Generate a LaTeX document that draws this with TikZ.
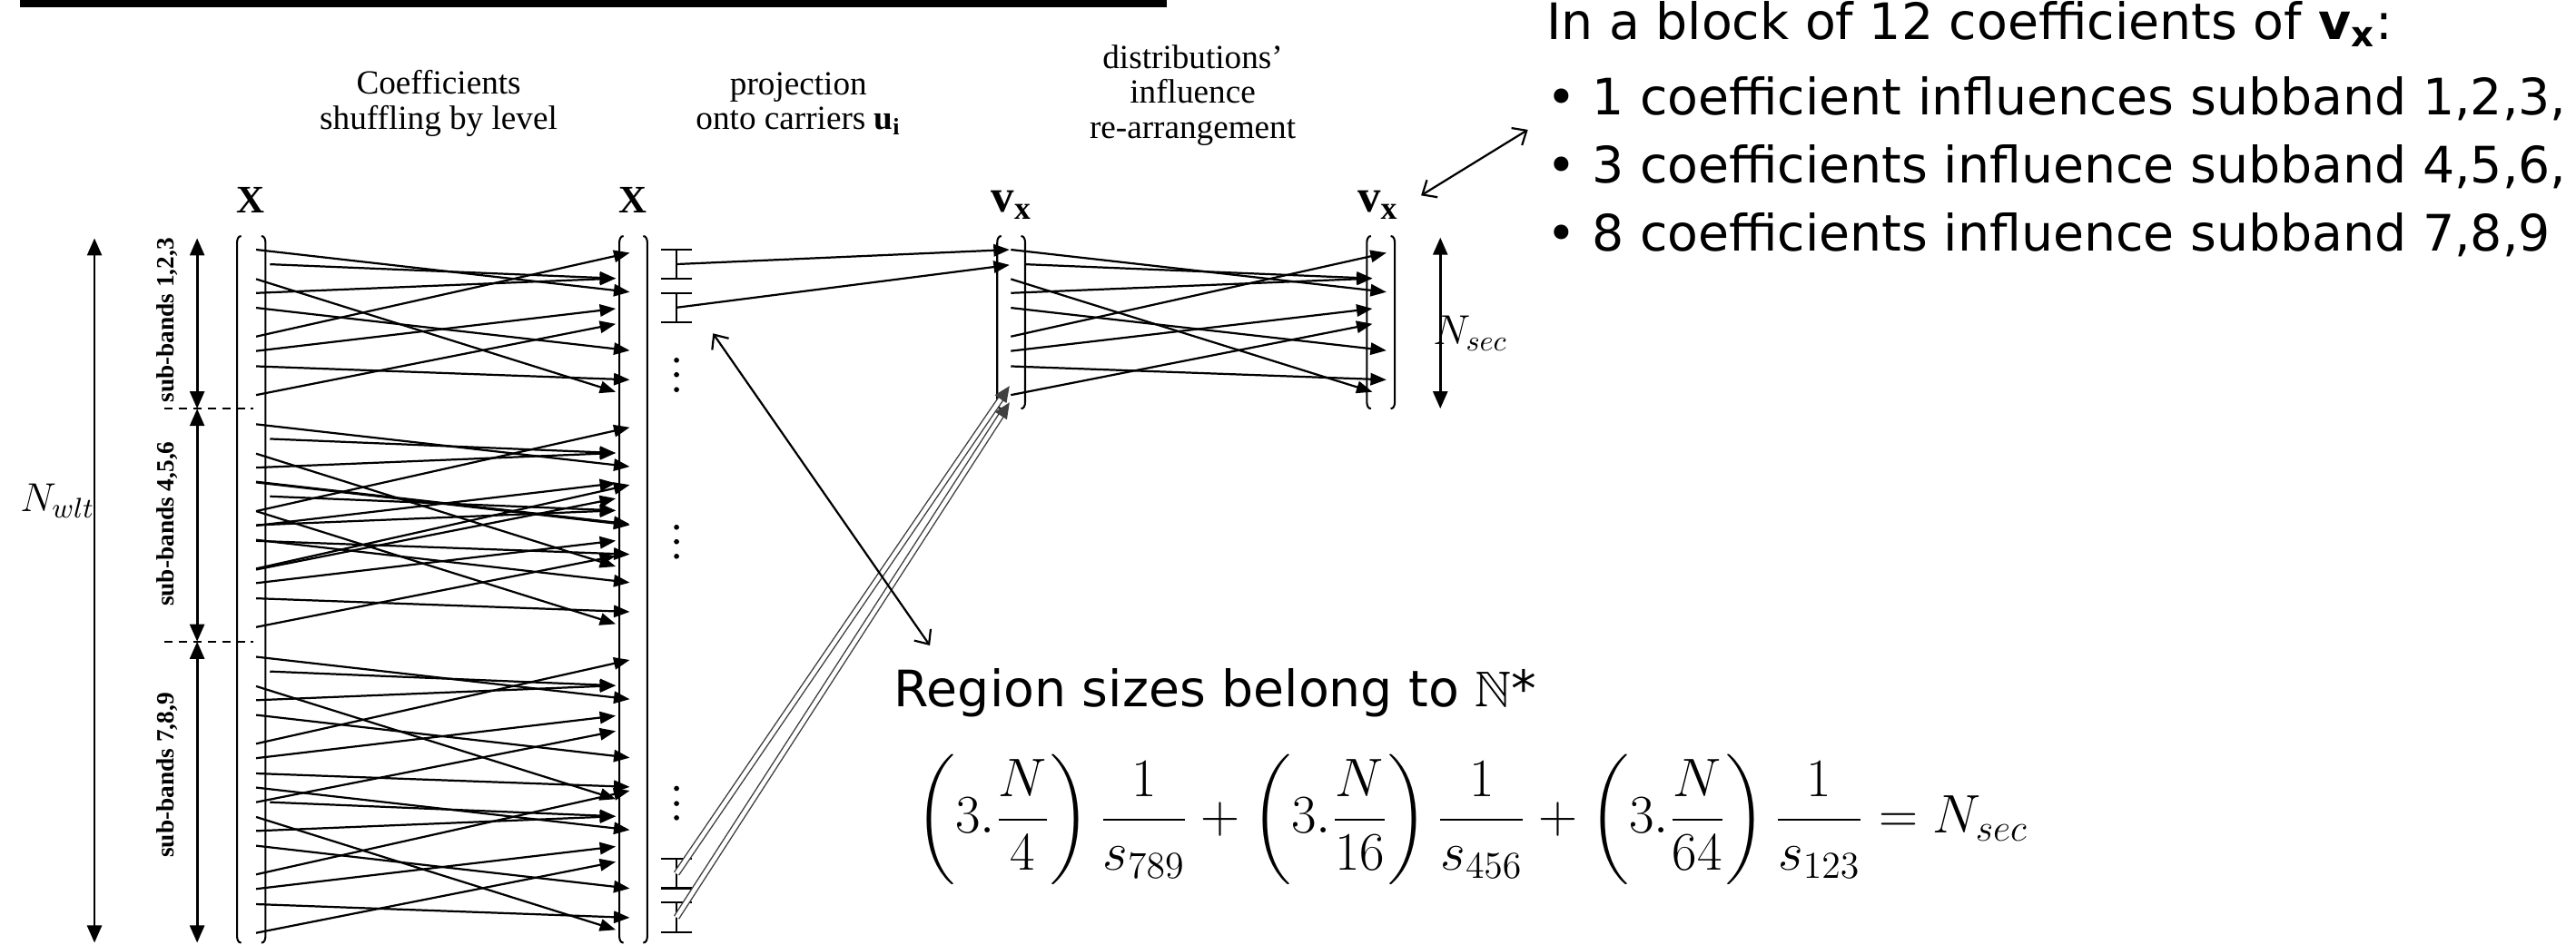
\RequirePackage{fix-cm}
\documentclass[tikz,border=0pt]{standalone}
\usepackage{amsmath}
\usepackage{amssymb}
\usepackage[no-math]{fontspec}
\setmainfont{Liberation Serif}
\newfontfamily\slidefont{DejaVu Sans}
\usepackage{xcolor}
\usepackage{tikz}
\usetikzlibrary{arrows.meta,positioning,calc}

% one shuffle block: tag, start x, end x, top y
\newcommand{\shuffleblock}[4]{%
  \foreach \n/\so/\sdx/\eo/\edx in {a/0/0/25.8/8.5, b/8.9/8.4/17.5/0, c/17.9/0/86.6/0, d/26.4/0/17.5/0, e/35.4/0/61.4/8.5, f/52.9/0/1.9/8.5, g/61.7/0/35.9/0, h/71.0/0/79.2/8.5, i/88.5/0/45.2/0}{%
    \coordinate (#1s\n) at ({#2+\sdx},{#4+\so});
    \coordinate (#1e\n) at ({#3+\edx},{#4+\eo});
    \draw[shuf] (#1s\n) -- (#1e\n);
  }%
}
% vector as a pair of tall parentheses
\newcommand{\vecbracket}[4]{%
  \draw[brk] ({#1+2.5},#3) to[out=180,in=90] (#1,{#3+4}) -- (#1,{#4-4}) to[out=-90,in=180] ({#1+2.5},#4);
  \draw[brk] ({#2-2.5},#3) to[out=0,in=90] (#2,{#3+4}) -- (#2,{#4-4}) to[out=-90,in=0] ({#2-2.5},#4);
}
% region marker
\newcommand{\ibeam}[3]{%
  \draw[brk] (402.6,#2) -- (421.2,#2) (402.6,#3) -- (421.2,#3) (411.8,#2) -- (411.8,#3);
  \coordinate (#1) at (411.8,{(#2+#3)/2});
}

\begin{document}
\begin{tikzpicture}[x=0.02cm, y=-0.02cm,
    shuf/.style={line width=0.7pt, -{Triangle[length=5.5pt,width=4.2pt]}},
    brk/.style={line width=0.65pt},
    dimarrow/.style={line width=0.9pt, {Triangle[length=6pt,width=5pt]}-{Triangle[length=6pt,width=5pt]}},
    callout/.style={line width=0.7pt, {Straight Barb[length=4pt,width=7pt]}-{Straight Barb[length=4pt,width=7pt]}},
    dbl/.style={double=white, double distance=1.4pt, line width=0.45pt, draw=black!75, -{Triangle[length=5.5pt,width=4.8pt]}},
    head/.style={align=center, inner sep=0pt, font=\fontsize{11.7}{12.2}\selectfont},
    collab/.style={inner sep=0pt, font=\fontsize{13.5}{15}\selectfont\bfseries},
    vlab/.style={anchor=base west, inner sep=0pt, font=\fontsize{16}{18}\selectfont\bfseries},
    band/.style={rotate=90, inner sep=0pt, font=\fontsize{8.6}{9}\selectfont\bfseries},
    slide/.style={anchor=base west, inner sep=0pt, font=\slidefont\fontsize{17.4}{20}\selectfont}]
    \useasboundingbox (0,0) rectangle (1568,575);
    \fill (12,0) rectangle (710,4.5);

    % step titles
    \node[head] (tshuf) at (267,63) {Coefficients\\shuffling by level};
    \node[head] (tproj) at (486,63) {projection\\onto carriers \textbf{u}\textsubscript{\textbf{i}}};
    \node[head] (tdist) at (726,58) {distributions'\\influence\\re-arrangement};

    % vectors
    \node[collab] (x1) at (152.5,122) {X};
    \node[collab] (x2) at (385,122) {X};
    \node[vlab] (v1) at (603,129) {v\textsubscript{x}};
    \node[vlab] (v2) at (826,129) {v\textsubscript{x}};
    \vecbracket{144.3}{161.6}{143.7}{574}
    \vecbracket{377}{394}{143.7}{574}
    \vecbracket{607}{624}{143.7}{248.8}
    \vecbracket{832}{849}{143.7}{248.8}

    % sizes on the left
    \coordinate (wtop) at (57.5,145);
    \coordinate (wbot) at (57.5,574);
    \draw[dimarrow] (wtop) -- (wbot);
    \node[inner sep=0pt, font=\fontsize{14}{16}\selectfont] (nwlt) at (35,305) {$N_{wlt}$};
    \coordinate (b0) at (120,145);
    \coordinate (b1) at (120,248.8);
    \coordinate (b2) at (120,390.6);
    \coordinate (b3) at (120,574);
    \draw[dimarrow] (b0) -- (b1);
    \draw[dimarrow] (b1) -- (b2);
    \draw[dimarrow] (b2) -- (b3);
    \draw[dashed, dash pattern=on 3pt off 2pt, line width=0.5pt] ($(b1)+(-20,0)$) -- ($(b1)+(34,0)$);
    \draw[dashed, dash pattern=on 3pt off 2pt, line width=0.5pt] ($(b2)+(-20,0)$) -- ($(b2)+(34,0)$);
    \node[band] (sb1) at (102,195) {sub-bands 1,2,3};
    \node[band] (sb2) at (102,319) {sub-bands 4,5,6};
    \node[band] (sb3) at (102,472) {sub-bands 7,8,9};

    % shuffling by level
    \shuffleblock{A}{155.9}{374.8}{152}
    \shuffleblock{B}{155.9}{374.8}{258.3}
    \shuffleblock{C}{155.9}{374.8}{293.3}
    \shuffleblock{D}{155.9}{374.8}{399.9}
    \shuffleblock{E}{155.9}{374.8}{479.5}

    % projection onto carriers
    \ibeam{r1}{152}{169.7}
    \ibeam{r2}{178.5}{196}
    \ibeam{r3}{523}{540.8}
    \ibeam{r4}{549.6}{567.5}
    \foreach \y in {219.3,228.1,237.2,321,329.8,338.7,480,489.2,497.9}
        \fill (411.8,\y) circle[radius=0.9pt];
    \coordinate (p1) at (614.5,152);
    \coordinate (p2) at (614.5,161.3);
    \coordinate (p3) at (614.5,235);
    \coordinate (p4) at (614.5,245);
    \draw[shuf] (r1) -- (p1);
    \draw[shuf] (r2) -- (p2);
    \draw[dbl] (r3) -- (p3);
    \draw[dbl] (r4) -- (p4);

    % re-arrangement
    \shuffleblock{F}{615.3}{835.4}{152}
    \coordinate (stop) at (876.7,144.6);
    \coordinate (sbot) at (876.7,248.8);
    \draw[dimarrow] (stop) -- (sbot);
    \node[inner sep=0pt, anchor=west, font=\fontsize{14.5}{16}\selectfont] (nsec) at (872,203) {$N_{sec}$};

    % notes
    \node[slide] (blk) at (941,24) {In a block of 12 coefficients of \textbf{v}\textsubscript{\textbf{x}}:};
    \node[slide] (l123) at (941,70) {\textbullet{} 1 coefficient influences subband 1,2,3,};
    \node[slide] (l456) at (941,111.5) {\textbullet{} 3 coefficients influence subband 4,5,6,};
    \node[slide] (l789) at (941,153) {\textbullet{} 8 coefficients influence subband 7,8,9};
    \node[slide] (region) at (544,430) {Region sizes belong to $\mathbb{N}$*};
    \node[inner sep=0pt, anchor=west, font=\fontsize{18.8}{22}\selectfont] (eq) at (557,499)
        {$\displaystyle \left(3.\frac{N}{4}\right)\frac{1}{s_{789}}+\left(3.\frac{N}{16}\right)\frac{1}{s_{456}}+\left(3.\frac{N}{64}\right)\frac{1}{s_{123}}=N_{sec}$};

    \coordinate (rA) at (434,203);
    \coordinate (rB) at (566,393);
    \draw[callout] (rA) -- (rB);
    \coordinate (vA) at (865,119);
    \coordinate (vB) at (930,79);
    \draw[callout] (vA) -- (vB);
\end{tikzpicture}
\end{document}
